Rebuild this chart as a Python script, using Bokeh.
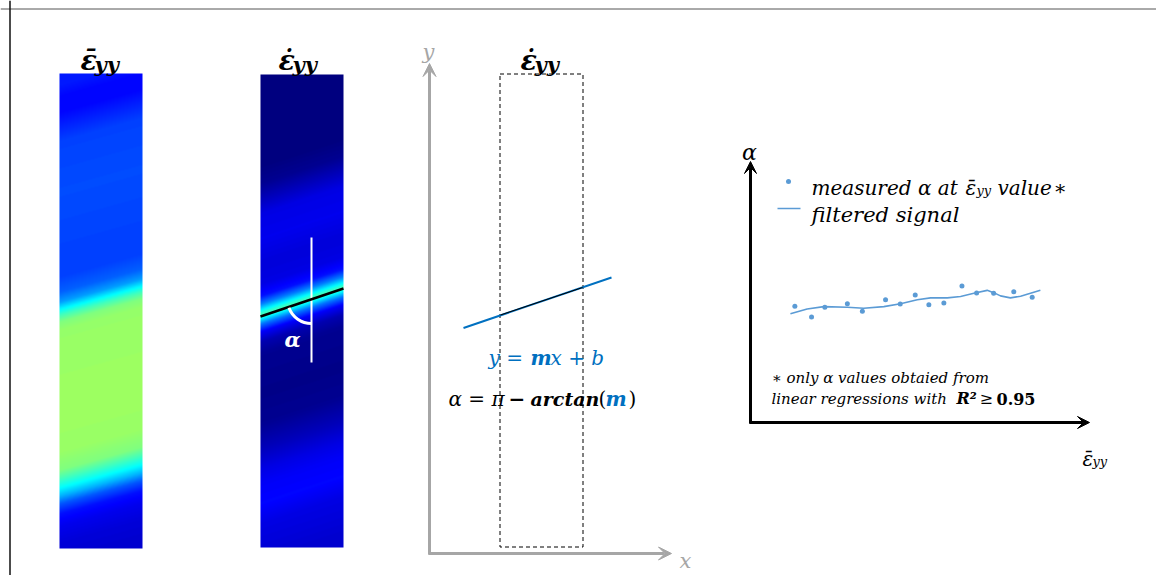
import numpy as np
from bokeh.plotting import figure
from bokeh.models import Range1d, Arrow, VeeHead, Span, LinearColorMapper
from bokeh.core.properties import value
from bokeh.embed import file_html
from bokeh.resources import INLINE

# ---------------- data ----------------
# strain-field profiles sampled along the specimen (row position, normalised colour level 0..1)
EPS_BAR_ROW = [73, 85, 100, 115, 130, 180, 240, 265, 280, 290, 297, 303, 310, 318, 330, 400, 440, 458, 467, 476, 484, 492, 502, 514, 530, 548]
EPS_BAR_LEVEL = [0.15, 0.13, 0.13, 0.16, 0.19, 0.20, 0.19, 0.19, 0.22, 0.28, 0.37, 0.44, 0.50, 0.52, 0.525, 0.53, 0.525, 0.50, 0.44, 0.375, 0.30, 0.21, 0.14, 0.11, 0.09, 0.08]
EPS_DOT_ROW = [74, 150, 170, 185, 200, 225, 250, 270, 282, 290, 296, 300, 304, 310, 318, 328, 340, 380, 410, 435, 455, 470, 490, 510, 530, 547]
EPS_DOT_LEVEL = [0.0, 0.0, 0.02, 0.06, 0.10, 0.11, 0.09, 0.10, 0.14, 0.25, 0.37, 0.44, 0.38, 0.24, 0.12, 0.05, 0.02, 0.01, 0.02, 0.06, 0.10, 0.12, 0.13, 0.10, 0.09, 0.08]
EPS_BAR_TILT = 0.28
EPS_DOT_TILT = 0.33

# alpha vs mean strain (schematic units)
MEAS_EPS = [0.133, 0.182, 0.221, 0.287, 0.331, 0.399, 0.442, 0.486, 0.526, 0.570, 0.623, 0.666, 0.716, 0.775, 0.829]
MEAS_ALPHA = [135.3, 132.0, 135.0, 136.1, 133.8, 137.3, 136.0, 138.8, 135.8, 136.3, 141.5, 139.4, 139.3, 139.8, 138.1]
FILT_EPS = [0.120, 0.169, 0.218, 0.287, 0.335, 0.394, 0.443, 0.492, 0.531, 0.580, 0.619, 0.658, 0.697, 0.716, 0.736, 0.765, 0.795, 0.824, 0.853]
FILT_ALPHA = [133.0, 134.5, 135.2, 135.0, 134.7, 135.2, 136.1, 137.3, 137.9, 137.9, 138.3, 139.3, 140.2, 139.5, 138.5, 137.9, 138.4, 139.3, 140.2]

SERIF = "DejaVu Serif"
BLUE = "#0070C0"
LBLUE = "#5B9BD5"
GRAY = "#A6A6A6"


def jet(v):
    v = np.asarray(v, dtype=float)
    r = np.clip(1.5 - np.abs(4 * v - 3), 0, 1)
    g = np.clip(1.5 - np.abs(4 * v - 2), 0, 1)
    b = np.clip(1.5 - np.abs(4 * v - 1), 0, 1)
    return r, g, b


lv = np.linspace(0, 1, 256)
R, G, B = jet(lv)
JET = ["#%02x%02x%02x" % (int(r * 255), int(g * 255), int(b * 255)) for r, g, b in zip(R, G, B)]

W, H = 1156, 575
p = figure(width=W, height=H, x_range=Range1d(0, W), y_range=Range1d(-H, 0),
           x_axis_type=None, y_axis_type=None, output_backend="svg", toolbar_location=None,
           min_border=0)
p.grid.visible = False
p.outline_line_color = None
p.background_fill_color = "white"
p.border_fill_color = "white"

# frame lines (top + left)
p.add_layout(Span(location=-8.5, dimension="width", line_color="#555555", line_width=1))
p.add_layout(Span(location=9.5, dimension="height", line_color="#111111", line_width=1.5))

mapper = LinearColorMapper(palette=JET, low=0, high=1)


def field(x0, y_top, w, h, rows, levels, tilt):
    xs = x0 + np.arange(w) + 0.5
    ys = y_top + h - np.arange(h) - 0.5  # row 0 at bottom
    xc = x0 + w / 2
    X, Y = np.meshgrid(xs, ys)
    u = Y + tilt * (X - xc)
    return np.interp(u, rows, levels)


img1 = field(59, 73, 83, 475, EPS_BAR_ROW, EPS_BAR_LEVEL, EPS_BAR_TILT)
img2 = field(260, 74, 83, 473, EPS_DOT_ROW, EPS_DOT_LEVEL, EPS_DOT_TILT)
p.image(image=[img1], x=59, y=-548, dw=83, dh=475, color_mapper=mapper)
p.image(image=[img2], x=260, y=-547, dw=83, dh=473, color_mapper=mapper)


def txt(x, y, s, size, color="black", style="italic", align="left", font=SERIF):
    p.text(x=[x], y=[-y], text=[s], text_font=value(font), text_font_size=f"{size}px",
           text_font_style=style, text_color=color, text_align=align, text_baseline="alphabetic")


# titles
txt(80, 60, "\u03b5\u0304", 27, style="bold italic")
txt(94, 64, "yy", 21, style="bold italic")
txt(278, 60, "\u03b5\u0307", 27, style="bold italic")
txt(292, 64, "yy", 21, style="bold italic")
txt(520, 60, "\u03b5\u0307", 27, style="bold italic")
txt(534, 64, "yy", 21, style="bold italic")

# annotations on strain-rate field
p.line(x=[311, 311], y=[-237, -362], line_color="white", line_width=2)
p.line(x=[260, 343], y=[-316, -288], line_color="black", line_width=2.5)
p.arc(x=[311], y=[-299], radius=24, start_angle=np.deg2rad(200), end_angle=np.deg2rad(270),
      line_color="white", line_width=3)
txt(292, 339, "\u03b1", 21, color="white", style="bold italic", align="center")

# middle schematic
p.quad(left=499.5, right=582.5, top=-73.5, bottom=-546.5, fill_color=None,
       line_color="black", line_width=1, line_dash="4 3")
p.add_layout(Arrow(end=VeeHead(size=13, fill_color=GRAY, line_color=GRAY, line_width=1),
                   x_start=429, y_start=-554, x_end=429, y_end=-63, line_color=GRAY, line_width=3))
p.add_layout(Arrow(end=VeeHead(size=13, fill_color=GRAY, line_color=GRAY, line_width=1),
                   x_start=428, y_start=-553, x_end=671, y_end=-553, line_color=GRAY, line_width=3))
txt(428, 51, "y", 21, color=GRAY, style="italic", align="center")
txt(685, 560, "x", 21, color=GRAY, style="italic", align="center")
p.line(x=[463, 611], y=[-327.5, -277], line_color=BLUE, line_width=2)
p.line(x=[500, 582], y=[-314.5, -287], line_color="black", line_width=1)
txt(488, 357, "y = ", 20, color=BLUE)
txt(530, 357, "m", 20, color=BLUE, style="bold italic")
txt(550, 357, "x + b", 20, color=BLUE)
txt(448, 398, "\u03b1 = \u03c0", 20)
txt(508, 398, "\u2212", 20, style="bold")
txt(530, 398, "arctan", 19, style="bold italic")
txt(598, 398, "(", 20, style="normal")
txt(605, 398, "m", 20, color=BLUE, style="bold italic")
txt(628, 398, ")", 20, style="normal")

# right chart
p.extra_x_ranges = {"eps": Range1d((0 - 749) / 341, (W - 749) / 341)}
p.extra_y_ranges = {"alpha": Range1d(100 - (H - 421) / 3.2625, 100 + 421 / 3.2625)}
p.add_layout(Arrow(end=VeeHead(size=12, fill_color="black", line_color="black", line_width=1),
                   x_start=750, y_start=-423, x_end=750, y_end=-161, line_color="black", line_width=3))
p.add_layout(Arrow(end=VeeHead(size=12, fill_color="black", line_color="black", line_width=1),
                   x_start=749, y_start=-422, x_end=1089, y_end=-422, line_color="black", line_width=3))
p.line(x=FILT_EPS, y=FILT_ALPHA, x_range_name="eps", y_range_name="alpha", line_color=LBLUE, line_width=1.6)
p.scatter(x=MEAS_EPS, y=MEAS_ALPHA, x_range_name="eps", y_range_name="alpha", size=5,
          fill_color=LBLUE, line_color=None)
txt(749, 152, "\u03b1", 22, align="center")
txt(1082, 458, "\u03b5\u0304", 20)
txt(1092, 461, "yy", 13)

# legend
p.scatter(x=[788], y=[-181], size=5, fill_color=LBLUE, line_color=None)
p.line(x=[777, 800], y=[-208, -208], line_color=LBLUE, line_width=1.6)
txt(811, 187, "measured \u03b1 at", 20)
txt(965, 187, "\u03b5\u0304", 20)
txt(976, 190, "yy", 13)
txt(997, 187, "value", 20)
txt(1053, 187, "\u2217", 20)
txt(811, 214, "filtered signal", 21)

# footnote
txt(771, 377, "\u2217 only \u03b1 values obtaied from", 15)
txt(771, 398, "linear regressions with", 15)
txt(956, 398, "R\u00b2", 16, style="bold italic")
txt(979, 398, "\u2265", 16, style="normal")
txt(996, 398, "0.95", 16, style="bold")

open("out.html", "w").write(file_html(p, INLINE))
